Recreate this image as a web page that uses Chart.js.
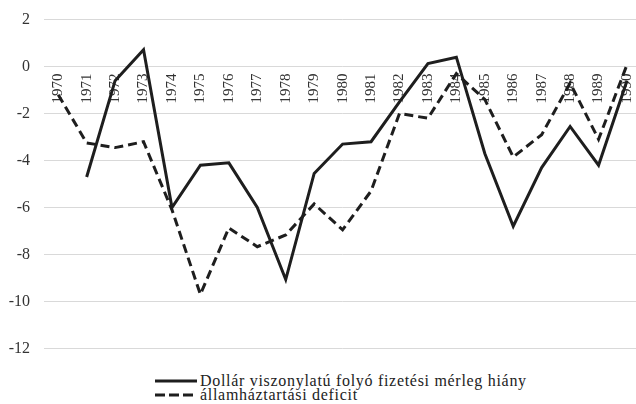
<!DOCTYPE html>
<html>
<head>
<meta charset="UTF-8">
<title>Folyó fizetési mérleg és államháztartási deficit</title>
<script src="https://cdn.jsdelivr.net/npm/chart.js@4.4.1/dist/chart.umd.min.js"></script>
<style>
  * { margin: 0; padding: 0; box-sizing: border-box; }
  html, body { background: #fff; width: 636px; height: 404px; overflow: hidden; font-family: 'Liberation Serif', 'DejaVu Serif', serif; }
  /* the original plot runs off the right edge, so the canvas is a bit wider than the window */
  .wrap { position: relative; width: 652px; height: 376px; margin-top: -4px; }
  .legend { position: absolute; left: 155px; top: 374px; font-size: 16px; letter-spacing: 0.7px; color: #222; line-height: 14px; }
  .legend-item { display: flex; align-items: center; height: 14px; }
  .legend-item svg { margin-right: 3px; }
</style>
</head>
<body>
<div class="wrap"><canvas id="chart"></canvas></div>
<div class="legend" id="legend"></div>

<script>
  const years = ['1970','1971','1972','1973','1974','1975','1976','1977','1978','1979','1980',
                 '1981','1982','1983','1984','1985','1986','1987','1988','1989','1990'];

  // Dollár viszonylatú folyó fizetési mérleg hiány (% GDP)
  const currentAccount = [null, -4.7, -0.6, 0.72, -6.0, -4.2, -4.1, -6.0, -9.07, -4.55, -3.3,
                          -3.2, -1.5, 0.13, 0.4, -3.7, -6.8, -4.3, -2.55, -4.2, -0.6];

  // államháztartási deficit (% GDP)
  const budgetDeficit = [-1.2, -3.25, -3.45, -3.2, -6.1, -9.7, -6.87, -7.67, -7.17, -5.85, -6.95,
                         -5.3, -2.0, -2.2, -0.3, -1.4, -3.85, -2.9, -0.7, -3.1, 0.08];

  const yTicks = [2, 0, -2, -4, -6, -8, -10, -12];

  const seriesNames = ['Dollár viszonylatú folyó fizetési mérleg hiány', 'államháztartási deficit'];
  const lineColor = '#1e1e1e';
  const fontFamily = "'Liberation Serif', 'DejaVu Serif', serif";

  const ctx = document.getElementById('chart').getContext('2d');
  const chart = new Chart(ctx, {
    type: 'line',
    data: {
      labels: years,
      datasets: [{
        label: seriesNames[0],
        data: currentAccount,
        borderColor: lineColor,
        borderWidth: 3,
        pointRadius: 0,
        tension: 0,
        spanGaps: false,
      }, {
        label: seriesNames[1],
        data: budgetDeficit,
        borderColor: lineColor,
        borderWidth: 3,
        borderDash: [9, 5],
        pointRadius: 0,
        tension: 0,
      }]
    },
    options: {
      responsive: true,
      maintainAspectRatio: false,
      animation: false,
      layout: { padding: 0 },
      plugins: {
        legend: { display: false },
        tooltip: { enabled: false }
      },
      scales: {
        x: {
          offset: true,
          position: { y: 0 },
          grid: { display: false, drawTicks: false },
          border: { display: false },
          ticks: {
            autoSkip: false,
            minRotation: 90,
            maxRotation: 90,
            padding: 7,
            color: '#333',
            font: { family: fontFamily, size: 15 }
          }
        },
        y: {
          min: Math.min(...yTicks),
          max: Math.max(...yTicks),
          afterFit: scale => { scale.width = 44; },
          grid: { color: '#d9d9d9', lineWidth: 1, drawTicks: false },
          border: { display: false },
          ticks: {
            stepSize: 2,
            padding: 14,
            color: '#333',
            font: { family: fontFamily, size: 16 }
          }
        }
      }
    }
  });

  // HTML legend, stacked and left-aligned like the original
  const legend = document.getElementById('legend');
  chart.data.datasets.forEach(ds => {
    const item = document.createElement('div');
    item.className = 'legend-item';
    const dash = ds.borderDash ? `stroke-dasharray="10 4"` : '';
    item.innerHTML = `<svg width="42" height="6"><line x1="0" y1="3" x2="42" y2="3" stroke="${lineColor}" stroke-width="3" ${dash}/></svg><span>${ds.label}</span>`;
    legend.appendChild(item);
  });
</script>
</body>
</html>
